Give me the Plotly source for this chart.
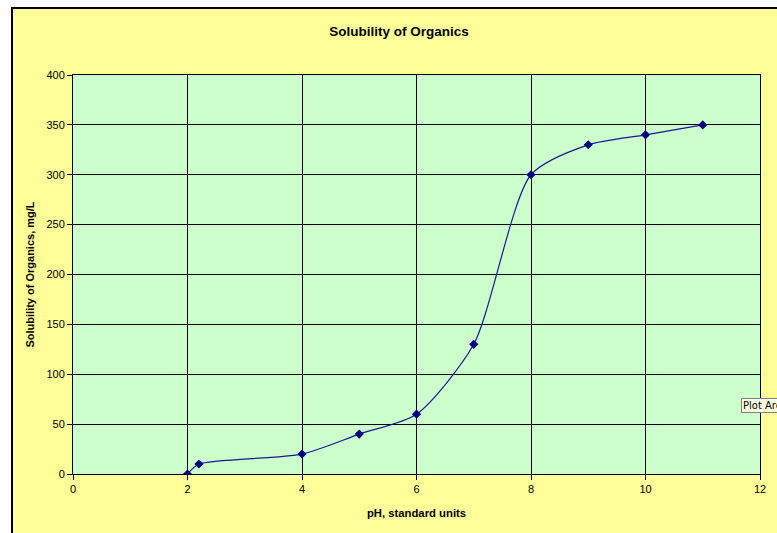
import plotly.graph_objects as go

ph = [2, 2.2, 4, 5, 6, 7, 8, 9, 10, 11]
solubility = [0, 10, 20, 40, 60, 130, 300, 330, 340, 350]
x_ticks = [0, 2, 4, 6, 8, 10, 12]
y_ticks = [0, 50, 100, 150, 200, 250, 300, 350, 400]

W, H = 777, 533
L, R, T, B = 73, 17, 75, 59
pw, ph_ = W - L - R, H - T - B

fig = go.Figure()
fig.add_trace(go.Scatter(
    x=ph, y=solubility, mode="lines+markers",
    line=dict(color="#1a1a90", width=1.2, shape="spline", smoothing=0.7),
    marker=dict(symbol="diamond", size=7, color="#000080"),
    hoverinfo="skip", showlegend=False,
))

font = "Liberation Sans, Arial, sans-serif"
axis_common = dict(
    showgrid=True, gridcolor="#000000", gridwidth=1,
    showline=True, linecolor="#000000", linewidth=1, mirror=True,
    ticks="outside", ticklen=5, tickcolor="#000000",
    tickfont=dict(family=font, size=11, color="#000000"),
    zeroline=False, fixedrange=True,
)
fig.update_xaxes(range=[0, 12], tickvals=x_ticks,
                 title=dict(text="<b>pH, standard units</b>", font=dict(family=font, size=11.3, color="#000000"), standoff=14),
                 **axis_common)
fig.update_yaxes(range=[0, 400], tickvals=y_ticks,
                 title=dict(text="<b>Solubility of Organics, mg/L</b>", font=dict(family=font, size=11, color="#000000"), standoff=9),
                 **axis_common)

def px(xp):
    return (xp - L) / pw

def py(yp):
    return 1 - (yp - T) / ph_

# white margin outside the chart border (left and top)
fig.add_shape(type="rect", xref="paper", yref="paper",
              x0=px(-5), x1=px(11), y0=py(600), y1=py(-5),
              line=dict(width=0), fillcolor="#FFFFFF", layer="above")
fig.add_shape(type="rect", xref="paper", yref="paper",
              x0=px(-5), x1=px(820), y0=py(7), y1=py(-5),
              line=dict(width=0), fillcolor="#FFFFFF", layer="above")
# chart-area border
fig.add_shape(type="rect", xref="paper", yref="paper",
              x0=px(12), x1=px(820), y0=py(600), y1=py(8),
              line=dict(color="#000000", width=2), fillcolor="rgba(0,0,0,0)", layer="above")

fig.add_annotation(text="Plot Area", xref="paper", yref="paper",
                   x=px(741), y=py(398), xanchor="left", yanchor="top",
                   showarrow=False, bgcolor="#FFFFE1", bordercolor="#808080", borderwidth=1, borderpad=1,
                   font=dict(family="DejaVu Sans, sans-serif", size=10, color="#000000"))

fig.update_layout(
    width=W, height=H,
    margin=dict(l=L, r=R, t=T, b=B),
    paper_bgcolor="#FFFF99", plot_bgcolor="#CCFFCC",
    title=dict(text="<b>Solubility of Organics</b>", x=399 / W, xref="container", xanchor="center",
               y=1 - 31 / H, yref="container", yanchor="middle",
               font=dict(family=font, size=13.5, color="#000000")),
)

fig.write_html("out.html", config={"displayModeBar": False},
               post_script="document.body.style.margin='0';document.body.style.overflow='hidden';")
